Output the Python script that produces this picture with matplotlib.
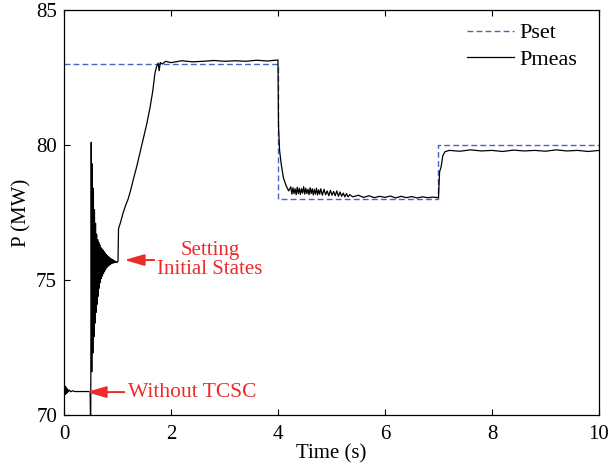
import matplotlib
matplotlib.use('Agg')
import matplotlib.pyplot as plt
import numpy as np

plt.rcParams['font.family'] = ['Liberation Serif', 'DejaVu Serif']

# Set-point (step) curve
pset_t = [0.0, 4.0, 4.0, 7.0, 7.0, 10.0]
pset_p = [83.0, 83.0, 78.0, 78.0, 80.0, 80.0]

start_t = [0.0, 0.01, 0.02, 0.03, 0.04, 0.05, 0.06, 0.07, 0.08, 0.10, 0.13, 0.16, 0.20, 0.30, 0.40, 0.49, 0.50]
start_p = [70.7, 71.1, 70.75, 71.05, 70.8, 71.0, 70.82, 70.95, 70.86, 70.92, 70.86, 70.9, 70.87, 70.87, 70.87, 70.87, 69.0]

# oscillation extremes after the TCSC is switched in (t = 0.51 ... 1.00)
osc_hi = [80.1, 79.3, 78.4, 77.6, 77.1, 76.7, 76.5, 76.4, 76.3, 76.2, 76.15, 76.1, 76.05,
          76.0, 75.95, 75.9, 75.87, 75.84, 75.8, 75.78, 75.76, 75.73, 75.7, 75.68, 75.66]
osc_lo = [71.6, 72.3, 72.9, 73.4, 73.8, 74.1, 74.4, 74.7, 74.9, 75.05, 75.15, 75.25, 75.33,
          75.4, 75.46, 75.5, 75.54, 75.57, 75.6, 75.62, 75.63, 75.64, 75.65, 75.65, 75.66]

ramp_t = [1.01, 1.02, 1.06, 1.10, 1.15, 1.20, 1.25, 1.30, 1.36, 1.42, 1.48, 1.55, 1.61, 1.66, 1.70, 1.73, 1.76,
          1.78, 1.80, 1.84, 1.90, 2.0, 2.2, 2.4, 2.6, 2.8, 3.0, 3.2, 3.4, 3.6, 3.8, 3.99]
ramp_p = [75.7, 76.9, 77.15, 77.45, 77.75, 78.0, 78.35, 78.75, 79.2, 79.7, 80.2, 80.8, 81.4, 82.0, 82.65, 82.9, 83.03,
          82.75, 83.05, 83.0, 83.1, 83.05, 83.12, 83.08, 83.1, 83.13, 83.1, 83.12, 83.1, 83.14, 83.11, 83.15]

drop_t = [4.0, 4.01, 4.03, 4.06, 4.10, 4.15, 4.20, 4.24,
          4.26, 4.28, 4.30, 4.32, 4.34, 4.36, 4.38, 4.40, 4.42, 4.44, 4.46, 4.48, 4.50, 4.52,
          4.54, 4.56, 4.58, 4.60, 4.62, 4.64, 4.66, 4.68, 4.70, 4.72, 4.74, 4.76, 4.78, 4.80,
          4.83, 4.86, 4.89, 4.92, 4.95, 4.98, 5.01, 5.04, 5.07, 5.10, 5.13, 5.16, 5.19, 5.22,
          5.25, 5.28, 5.31, 5.34]
drop_p = [83.15, 80.7, 79.8, 79.3, 78.8, 78.5, 78.3, 78.45,
          78.18, 78.42, 78.2, 78.38, 78.16, 78.44, 78.2, 78.4, 78.17, 78.38, 78.22, 78.46, 78.18, 78.4,
          78.2, 78.36, 78.16, 78.42, 78.2, 78.38, 78.15, 78.36, 78.18, 78.4, 78.15, 78.34, 78.18, 78.38,
          78.14, 78.36, 78.16, 78.3, 78.12, 78.32, 78.14, 78.28, 78.12, 78.3, 78.1, 78.26, 78.1, 78.22,
          78.08, 78.2, 78.08, 78.16]

settle_t = [5.4, 5.5, 5.6, 5.7, 5.8, 5.9, 6.0, 6.1, 6.2, 6.3, 6.4, 6.5, 6.6, 6.7, 6.8, 6.9, 6.99]
settle_p = [78.08, 78.14, 78.06, 78.12, 78.05, 78.1, 78.06, 78.11, 78.04, 78.1, 78.05, 78.09, 78.04, 78.08, 78.05, 78.07, 78.05]

rise_t = [7.0, 7.02, 7.05, 7.08, 7.12, 7.2, 7.4, 7.6, 7.8, 8.0, 8.2, 8.4, 8.6, 8.8, 9.0, 9.2, 9.4, 9.6, 9.8, 10.0]
rise_p = [78.05, 79.0, 79.2, 79.6, 79.75, 79.8, 79.77, 79.82, 79.78, 79.8, 79.76, 79.81, 79.78, 79.8,
          79.77, 79.82, 79.78, 79.8, 79.76, 79.8]

# interleave the oscillation extremes on a 0.01 s grid
osc_t = np.round(np.arange(0.51, 1.005, 0.01), 2)
osc_p = np.empty(len(osc_t))
osc_p[0::2] = osc_hi
osc_p[1::2] = osc_lo[:len(osc_p[1::2])]

meas_t = np.concatenate([start_t, osc_t, ramp_t, drop_t, settle_t, rise_t])
meas_p = np.concatenate([start_p, osc_p, ramp_p, drop_p, settle_p, rise_p])

red = '#ee2b2b'
blue = '#4466c0'

fig = plt.figure(figsize=(6.09, 4.67), dpi=100)
ax = fig.add_axes([0.105, 0.1113, 0.8786, 0.8673])

ax.plot(pset_t, pset_p, color=blue, lw=1.0, dashes=(4.2, 2.3), label='Pset')
ax.plot(meas_t, meas_p, color='black', lw=0.9, label='Pmeas')

ax.set_xlim(0, 10)
ax.set_ylim(70, 85)
ax.set_xticks([0, 2, 4, 6, 8, 10])
ax.set_yticks([70, 75, 80, 85])
ax.tick_params(direction='in', length=4, top=True, right=False, labelsize=15)
ax.tick_params(axis='x', pad=7)
ax.tick_params(axis='y', pad=5)
for s in ax.spines.values():
    s.set_linewidth(0.9)
ax.set_xlabel('Time (s)', fontsize=15, labelpad=0)
ax.set_ylabel('P (MW)', fontsize=15, labelpad=3)

ax.legend(loc='upper right', bbox_to_anchor=(0.976, 0.99), frameon=False, fontsize=16,
          handlelength=2.1, handletextpad=0.25, labelspacing=0.25, borderaxespad=0.0)

arrow = dict(arrowstyle='-|>,head_length=1.2,head_width=0.35', color=red, lw=1.4)
ax.annotate('', xy=(1.08, 75.74), xytext=(1.74, 75.74), arrowprops=arrow)
ax.text(2.73, 75.74, 'Setting\nInitial States', color=red, fontsize=15,
        ha='center', va='center', multialignment='center', linespacing=1.05)
ax.annotate('', xy=(0.37, 70.85), xytext=(1.18, 70.85), arrowprops=arrow)
ax.text(1.2, 70.85, 'Without TCSC', color=red, fontsize=15.5, ha='left', va='center')

fig.savefig('out.png', dpi=100)
